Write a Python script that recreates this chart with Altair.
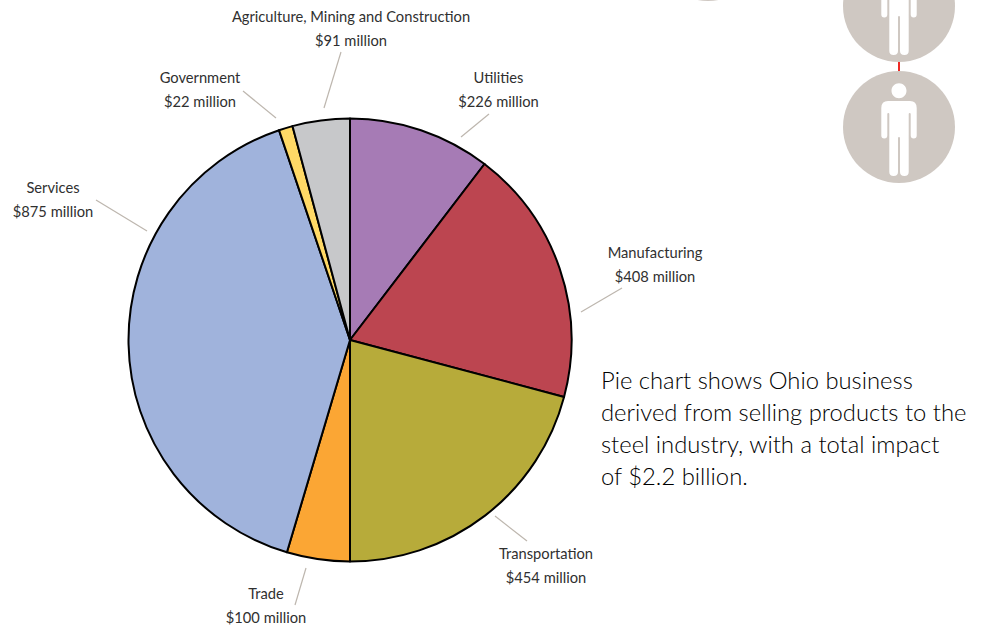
import altair as alt
import pandas as pd

# Ohio business by sector, clockwise from twelve o'clock ($ million)
sectors = ["Utilities", "Manufacturing", "Transportation", "Trade", "Services",
           "Government", "Agriculture, Mining and Construction"]
amounts = [226, 408, 454, 100, 875, 22, 91]
colours = ["#A67BB5", "#BC4550", "#B7AB3A", "#FBA634", "#A0B3DC", "#FFD966", "#C7C8CA"]

# Label anchor for each sector and the leader line that ties it to its slice
label_x = [498.5, 655, 546, 266, 53, 200, 351]
label_y = [79, 254, 555, 595, 189, 79, 18]
line_gap = 24
leader_x1 = [489, 622, 527, 295, 96, 243, 341]
leader_y1 = [114, 288, 541, 605, 200, 91, 52]
leader_x2 = [461, 581, 495, 306, 147, 276, 324]
leader_y2 = [137, 312, 516, 568, 231, 118, 108]

caption = ["Pie chart shows Ohio business",
           "derived from selling products to the",
           "steel industry, with a total impact",
           "of $2.2 billion."]
caption_y = [382, 414, 446, 478]

# Worker badges along the top edge
badge_x = [708, 899, 899]
badge_y = [-55, 6, 127]

W, H = 983, 631
PIE_X, PIE_Y, PIE_R = 350, 340, 221.5
LABEL_FONT = "Lato"

x_pos = alt.Scale(domain=[0, W], range=[0, W])
y_pos = alt.Scale(domain=[0, H], range=[0, H])


def px(field):
    return alt.X(f"{field}:Q", scale=x_pos, axis=None)


def py(field):
    return alt.Y(f"{field}:Q", scale=y_pos, axis=None)


slices = pd.DataFrame({"sector": sectors, "amount": amounts, "rank": range(len(sectors))})
pie = alt.Chart(slices).mark_arc(
    radius=PIE_R, stroke="#000000", strokeWidth=2, strokeJoin="round"
).encode(
    theta=alt.Theta("amount:Q", stack=True, scale=alt.Scale(domain=[0, sum(amounts)], range=[0, 6.283185307])),
    order=alt.Order("rank:Q"),
    color=alt.Color("sector:N", scale=alt.Scale(domain=sectors, range=colours), legend=None),
    x=alt.value(PIE_X),
    y=alt.value(PIE_Y),
)

leaders = alt.Chart(pd.DataFrame({
    "x1": leader_x1, "y1": leader_y1, "x2": leader_x2, "y2": leader_y2,
})).mark_rule(color="#BDB6AE", strokeWidth=1.2).encode(
    x=px("x1"), y=py("y1"), x2="x2:Q", y2="y2:Q",
)

label_rows = []
for name, amount, lx, ly in zip(sectors, amounts, label_x, label_y):
    label_rows.append({"x": lx, "y": ly, "text": name})
    label_rows.append({"x": lx, "y": ly + line_gap, "text": f"${amount} million"})
labels = alt.Chart(pd.DataFrame(label_rows)).mark_text(
    font=LABEL_FONT, fontSize=14.7, fontWeight=400, color="#303030", align="center", baseline="middle",
).encode(x=px("x"), y=py("y"), text="text:N")

notes = alt.Chart(pd.DataFrame({"text": caption, "y": caption_y, "x": [601] * 4})).mark_text(
    font="Lato", fontWeight=300, fontSize=23.8, color="#000000", align="left", baseline="middle",
).encode(x=px("x"), y=py("y"), text="text:N")

PERSON = (
    "M-7.5 -36.3A7.5 7.5 0 1 1 7.5 -36.3A7.5 7.5 0 1 1 -7.5 -36.3Z"
    "M-11 -26L11 -26Q17.7 -26 17.7 -19L17.7 8.5Q17.7 11.5 14.7 11.5Q11.7 11.5 11.7 8.5"
    "L11.7 -13Q11.7 -14 10.7 -14Q9.7 -14 9.7 -13L9.7 45Q9.7 49 5.4 49Q1 49 1 45"
    "L1 11Q1 10 0 10Q-1 10 -1 11L-1 45Q-1 49 -5.4 49Q-9.7 49 -9.7 45L-9.7 -13"
    "Q-9.7 -14 -10.7 -14Q-11.7 -14 -11.7 -13L-11.7 8.5Q-11.7 11.5 -14.7 11.5"
    "Q-17.7 11.5 -17.7 8.5L-17.7 -19Q-17.7 -26 -11 -26Z"
)
badge_df = pd.DataFrame({"x": badge_x, "y": badge_y})
discs = alt.Chart(badge_df).mark_point(
    shape="circle", filled=True, size=112 ** 2, color="#CFC8C2", opacity=1, clip=False,
).encode(x=px("x"), y=py("y"))
# A custom symbol path is scaled by sqrt(size) / 2, so size 4 keeps it in pixels
people = alt.Chart(badge_df).mark_point(
    shape=PERSON, filled=True, size=4, color="#FFFFFF", opacity=1,
).encode(x=px("x"), y=py("y"))

connector = alt.Chart(pd.DataFrame({"x": [899], "y1": [61], "y2": [72]})).mark_rule(
    color="#EE2A24", strokeWidth=2
).encode(x=px("x"), y=py("y1"), y2="y2:Q")

chart = alt.layer(connector, discs, people, leaders, pie, labels, notes).properties(
    width=W, height=H, padding=0, autosize=alt.AutoSizeParams(type="none"), background="#FFFFFF",
).configure_view(stroke=None).resolve_scale(color="independent")

chart.save("out.html", embed_options={"renderer": "svg", "actions": False})
